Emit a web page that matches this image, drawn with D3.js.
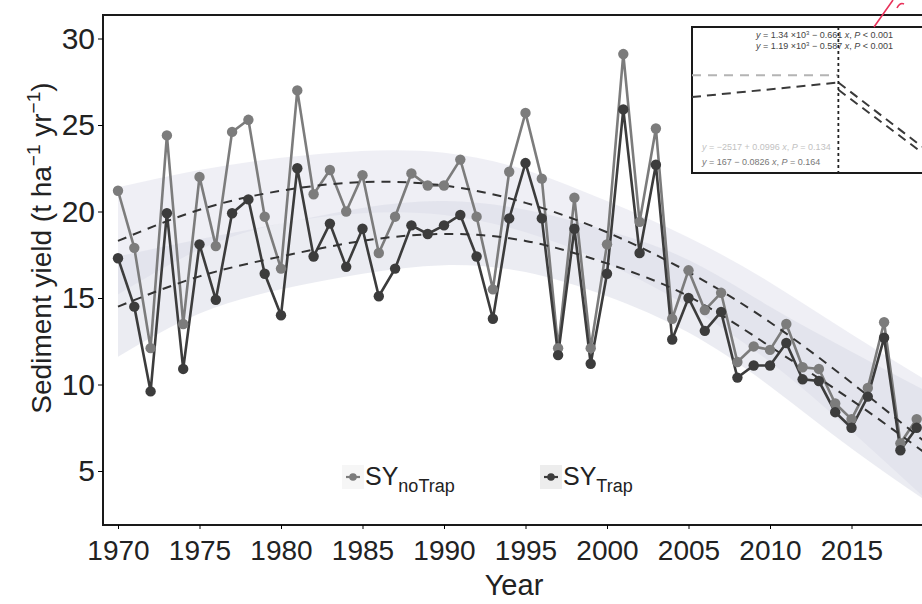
<!DOCTYPE html>
<html>
<head>
<meta charset="utf-8">
<script src="https://cdn.jsdelivr.net/npm/d3@7"></script>
<style>
  body { margin: 0; background: #fff; }
  text { font-family: "Liberation Sans", Arial, sans-serif; fill: #222; }
</style>
</head>
<body>
<div id="chart"></div>
<script>
// data
var years = d3.range(1970, 2020)
var syNoTrap = [21.2, 17.9, 12.1, 24.4, 13.5, 22.0, 18.0, 24.6, 25.3, 19.7,
                16.7, 27.0, 21.0, 22.4, 20.0, 22.1, 17.6, 19.7, 22.2, 21.5,
                21.5, 23.0, 19.7, 15.5, 22.3, 25.7, 21.9, 12.1, 20.8, 12.1,
                18.1, 29.1, 19.4, 24.8, 13.8, 16.6, 14.3, 15.3, 11.3, 12.2,
                12.0, 13.5, 11.0, 10.9, 8.9, 8.0, 9.8, 13.6, 6.6, 8.0]
var syTrap = [17.3, 14.5, 9.6, 19.9, 10.9, 18.1, 14.9, 19.9, 20.7, 16.4,
              14.0, 22.5, 17.4, 19.3, 16.8, 19.0, 15.1, 16.7, 19.2, 18.7,
              19.2, 19.8, 17.4, 13.8, 19.6, 22.8, 19.6, 11.7, 19.0, 11.2,
              16.4, 25.9, 17.6, 22.7, 12.6, 15.0, 13.1, 14.2, 10.4, 11.1,
              11.1, 12.4, 10.3, 10.2, 8.4, 7.5, 9.3, 12.7, 6.2, 7.5]

// fitted curves and bands, read every 5 years
var fitYears = [1970, 1975, 1980, 1985, 1990, 1995, 2000, 2005, 2010, 2015, 2020]
var fitNoTrap = [18.3, 20.1, 21.2, 21.7, 21.5, 20.5, 18.8, 16.5, 13.6, 10.1, 6.3]
var bandNoTrapLo = [15.2, 17.8, 19.3, 19.9, 19.8, 18.8, 17.0, 14.5, 11.3, 7.3, 3.0]
var bandNoTrapHi = [21.4, 22.4, 23.1, 23.5, 23.4, 22.4, 20.6, 18.5, 15.9, 12.9, 10.0]
var fitTrap = [14.5, 16.25, 17.4, 18.3, 18.7, 18.3, 17.0, 15.1, 12.2, 9.1, 5.7]
var bandTrapLo = [11.6, 14.1, 15.5, 16.4, 16.9, 16.5, 15.1, 13.0, 9.9, 6.3, 3.0]
var bandTrapHi = [17.4, 18.4, 19.3, 20.2, 20.6, 20.1, 18.9, 17.2, 14.5, 11.9, 9.4]

var xTicks = [1970, 1975, 1980, 1985, 1990, 1995, 2000, 2005, 2010, 2015]
var yTicks = [5, 10, 15, 20, 25, 30]
var seriesNames = ["noTrap", "Trap"]
var seriesColors = ["#7c7c7c", "#3c3c3c"]

// inset: piecewise regressions
var insetBreak = 1998
var insetPreLight = [[1970, 6.7], [1998, 6.7]]
var insetPreDark = [[1970, 5.2], [1998, 6.2]]
var insetPostA = [[1998, 6.2], [2014, 1.8]]
var insetPostB = [[1998, 5.7], [2014, 1.4]]

var W = 922, H = 604
var pLeft = 103, pTop = 15, pBottom = 525

var svg = d3.select("#chart").append("svg")
    .attr("width", W).attr("height", H)

var x = d3.scaleLinear().domain([1970, 2019]).range([118, 916.7])
var y = d3.scaleLinear().domain([5, 30]).range([471, 38.5])

svg.append("clipPath").attr("id", "clip")
  .append("rect").attr("x", pLeft).attr("y", pTop).attr("width", W - pLeft).attr("height", pBottom - pTop)

var plot = svg.append("g").attr("clip-path", "url(#clip)")

// confidence bands
function bandArea(lo, hi){
    return d3.area()
      .x(function(d,i){ return x(fitYears[i]) })
      .y0(function(d,i){ return y(lo[i]) })
      .y1(function(d,i){ return y(hi[i]) })
      .curve(d3.curveNatural)(fitYears)
}
plot.append("path").attr("d", bandArea(bandNoTrapLo, bandNoTrapHi))
    .attr("fill", "#dfe0ec").attr("opacity", 0.5)
plot.append("path").attr("d", bandArea(bandTrapLo, bandTrapHi))
    .attr("fill", "#d8d9e5").attr("opacity", 0.5)

var line = d3.line()
    .x(function(d,i){ return x(years[i]) })
    .y(function(d){ return y(d) })

var fitLine = d3.line()
    .x(function(d,i){ return x(fitYears[i]) })
    .y(function(d){ return y(d) })
    .curve(d3.curveNatural)

var series = [syNoTrap, syTrap]
series.forEach(function(s, k){
    plot.append("path").attr("d", line(s))
      .attr("fill", "none").attr("stroke", seriesColors[k]).attr("stroke-width", 2.6)
})

;[fitNoTrap, fitTrap].forEach(function(f){
    plot.append("path").attr("d", fitLine(f))
      .attr("fill", "none").attr("stroke", "#333").attr("stroke-width", 2)
      .attr("stroke-dasharray", "9,7")
})

series.forEach(function(s, k){
    plot.selectAll(".pt" + k).data(s).enter().append("circle")
      .attr("class", "pt" + k)
      .attr("cx", function(d,i){ return x(years[i]) })
      .attr("cy", function(d){ return y(d) })
      .attr("r", 5.2)
      .attr("fill", seriesColors[k])
})

// panel border (right side runs off the picture)
svg.append("rect").attr("x", pLeft).attr("y", pTop).attr("width", W).attr("height", pBottom - pTop)
    .attr("fill", "none").attr("stroke", "#1a1a1a").attr("stroke-width", 2)

// axes
var xAxis = svg.append("g").attr("transform", "translate(0," + pBottom + ")")
    .call(d3.axisBottom(x).tickValues(xTicks).tickFormat(d3.format("d")).tickSize(4).tickPadding(11))
xAxis.select(".domain").remove()
xAxis.selectAll("text").style("font-size", "28px").attr("fill", "#222")
    .style("font-family", "'Liberation Sans', Arial, sans-serif")

var yAxis = svg.append("g").attr("transform", "translate(" + pLeft + ",0)")
    .call(d3.axisLeft(y).tickValues(yTicks).tickSize(5).tickPadding(3))
yAxis.select(".domain").remove()
yAxis.selectAll("text").style("font-size", "30px").attr("fill", "#222")
    .style("font-family", "'Liberation Sans', Arial, sans-serif")

svg.append("text").attr("x", 514).attr("y", 595).attr("text-anchor", "middle")
    .style("font-size", "29px").text("Year")

var yt = svg.append("text").attr("transform", "translate(51,248) rotate(-90)")
    .attr("text-anchor", "middle").style("font-size", "28px")
yt.append("tspan").text("Sediment yield (t ha")
yt.append("tspan").attr("dy", -11).style("font-size", "19px").text("\u22121")
yt.append("tspan").attr("dy", 11).text(" yr")
yt.append("tspan").attr("dy", -11).style("font-size", "19px").text("\u22121")
yt.append("tspan").attr("dy", 11).text(")")

// legend
var legendX = [353, 551]
seriesNames.forEach(function(n, k){
    var g = svg.append("g").attr("transform", "translate(" + legendX[k] + ",477)")
    g.append("rect").attr("x", -11).attr("y", -12).attr("width", 22).attr("height", 24)
      .attr("fill", k == 1 ? "#ededed" : "#f6f6f6")
    g.append("line").attr("x1", -7).attr("x2", 7)
      .attr("stroke", seriesColors[k]).attr("stroke-width", 2.2)
    g.append("circle").attr("r", 3.8).attr("fill", seriesColors[k])
    var t = g.append("text").attr("x", 12).attr("y", 8).style("font-size", "25px")
    t.append("tspan").text("SY")
    t.append("tspan").attr("dy", 7).style("font-size", "18px").text(n)
})

// inset
var ix = d3.scaleLinear().domain([1970, 2014]).range([692, 922])
var iy = d3.scaleLinear().domain([0, 10]).range([173, 27])
var inset = svg.append("g")
inset.append("rect").attr("x", 692).attr("y", 27).attr("width", 260).attr("height", 146)
    .attr("fill", "#fff").attr("stroke", "#1a1a1a").attr("stroke-width", 2)

var iline = d3.line().x(function(d){ return ix(d[0]) }).y(function(d){ return iy(d[1]) })
inset.append("path").attr("d", iline(insetPreLight)).attr("stroke", "#b4b4b4")
    .attr("stroke-width", 2).attr("stroke-dasharray", "9,7").attr("fill", "none")
;[insetPreDark, insetPostA, insetPostB].forEach(function(p){
    inset.append("path").attr("d", iline(p)).attr("stroke", "#3a3a3a")
      .attr("stroke-width", 2).attr("stroke-dasharray", "9,6").attr("fill", "none")
})
inset.append("line").attr("x1", ix(insetBreak)).attr("x2", ix(insetBreak))
    .attr("y1", 27).attr("y2", 173).attr("stroke", "#222").attr("stroke-width", 1.8)
    .attr("stroke-dasharray", "3,3")

function eq(xp, yp, color, parts){
    var t = inset.append("text").attr("x", xp).attr("y", yp)
      .style("font-size", "9px").attr("fill", color)
    parts.forEach(function(p){
        var s = t.append("tspan").text(p[0]).attr("fill", color)
        if (p[1] == "i") s.style("font-style", "italic")
        if (p[1] == "sup") s.attr("dy", -3).style("font-size", "6px")
        if (p[1] == "base") s.attr("dy", 3)
    })
}
eq(756, 38, "#444", [["y", "i"], [" = 1.34 \u00d710"], ["3", "sup"], [" \u2212 0.661 ", "base"], ["x", "i"], [", "], ["P", "i"], [" < 0.001"]])
eq(756, 49, "#444", [["y", "i"], [" = 1.19 \u00d710"], ["3", "sup"], [" \u2212 0.587 ", "base"], ["x", "i"], [", "], ["P", "i"], [" < 0.001"]])
eq(702, 150, "#c2c2c2", [["y", "i"], [" = \u22122517 + 0.0996 "], ["x", "i"], [", "], ["P", "i"], [" = 0.134"]])
eq(702, 165, "#777", [["y", "i"], [" =  167 \u2212 0.0826 "], ["x", "i"], [", "], ["P", "i"], [" = 0.164"]])

// red pen mark on the scan
svg.append("path").attr("d", "M874,27 L893,0 M897,8 Q900,2 904,4")
    .attr("stroke", "#e8325a").attr("stroke-width", 1.6).attr("fill", "none")
</script>
</body>
</html>
